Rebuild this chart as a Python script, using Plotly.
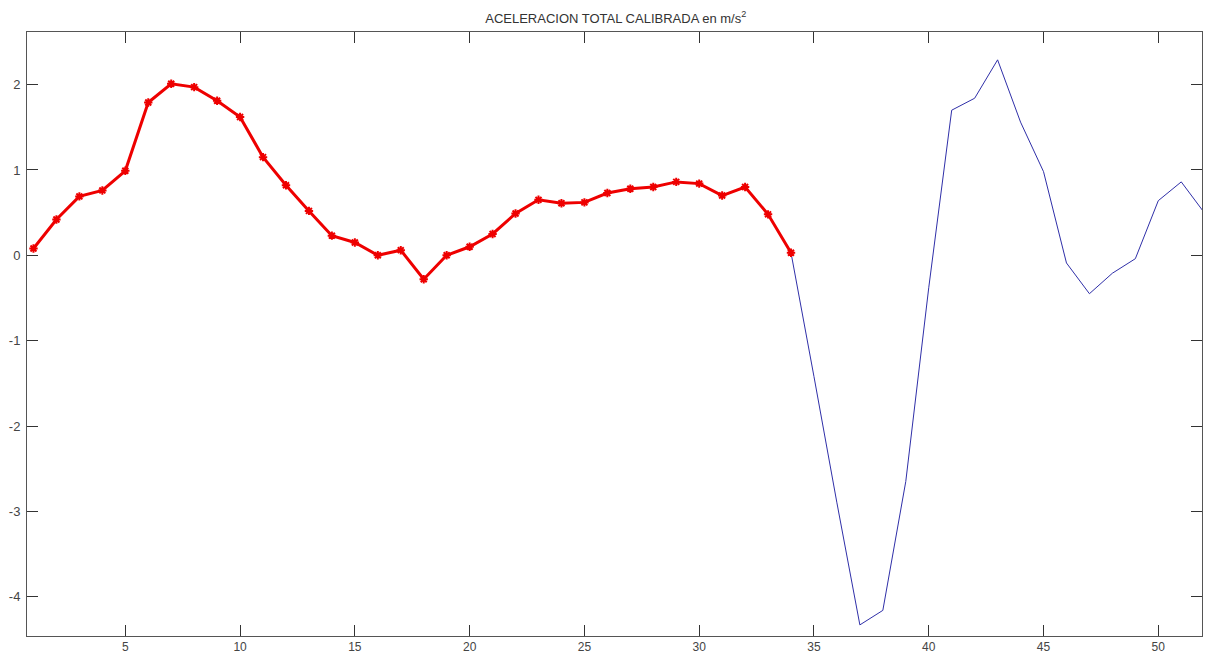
import plotly.graph_objects as go

# Sample index and calibrated total acceleration (m/s^2)
sample = list(range(1, 53))
accel = [
    0.08, 0.42, 0.69, 0.76, 0.99, 1.79, 2.01, 1.97, 1.81, 1.62,
    1.15, 0.82, 0.52, 0.23, 0.15, 0.00, 0.06, -0.28, 0.00, 0.10,
    0.25, 0.49, 0.65, 0.61, 0.62, 0.73, 0.78, 0.80, 0.86, 0.84,
    0.70, 0.80, 0.48, 0.03, -1.42, -2.90, -4.33, -4.16, -2.65, -0.38,
    1.70, 1.84, 2.29, 1.56, 0.98, -0.09, -0.45, -0.21, -0.04, 0.64,
    0.86, 0.50,
]
# Highlighted calibrated segment
seg_end = 34
seg_x = sample[:seg_end]
seg_y = accel[:seg_end]

x_ticks = [5, 10, 15, 20, 25, 30, 35, 40, 45, 50]
y_ticks = [-4, -3, -2, -1, 0, 1, 2]
y_tick_labels = ["-4", "-3", "-2", "-1", "0", "1", "2"]

fig = go.Figure()
fig.add_trace(go.Scatter(
    x=sample, y=accel, mode="lines",
    line=dict(color="#2f2fa8", width=1),
    showlegend=False, hoverinfo="x+y",
))
fig.add_trace(go.Scatter(
    x=seg_x, y=seg_y, mode="lines+markers",
    line=dict(color="#ee0000", width=3),
    marker=dict(symbol="asterisk-open", size=7, color="#ee0000",
                line=dict(color="#ee0000", width=2)),
    showlegend=False, hoverinfo="x+y",
))

font_family = "Liberation Sans, Arial, sans-serif"
axis_common = dict(
    showgrid=False, zeroline=False, automargin=False,
    showline=True, linecolor="#555555", linewidth=1, mirror="ticks",
    ticks="inside", ticklen=11, tickwidth=1, tickcolor="#333333",
    tickfont=dict(family=font_family, size=13, color="#444444"),
)

fig.update_layout(
    width=1205, height=656,
    margin=dict(l=27, r=3, t=32, b=20),
    paper_bgcolor="white", plot_bgcolor="white",
    title=dict(
        text="ACELERACION TOTAL CALIBRADA en m/s<sup>2</sup>",
        x=0.511, xanchor="center", y=0.972, yanchor="middle",
        font=dict(family=font_family, size=13, color="#333333"),
        automargin=False,
    ),
    xaxis=dict(range=[0.718, 51.904], tickvals=x_ticks, ticklabelstandoff=0,
               **{**axis_common, "tickfont": dict(family=font_family, size=12, color="#444444")}),
    yaxis=dict(range=[-4.46, 2.616], tickvals=y_ticks, ticktext=y_tick_labels,
               ticklabelstandoff=3, **axis_common),
)

fig.write_html("out.html")
